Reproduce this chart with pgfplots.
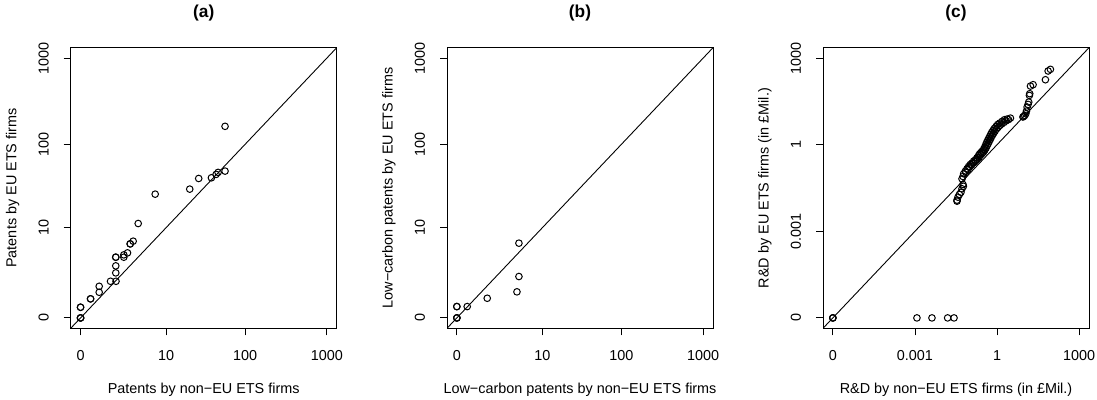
\documentclass[border=0pt]{standalone}
\usepackage{fontspec}
\setmainfont{Liberation Sans}
\usepackage{pgfplots}
\pgfplotsset{compat=1.18}

\pgfplotsset{
  qq/.style={
    scale only axis, width=266bp, height=280.6bp,
    xmin=-0.12, xmax=3.12, ymin=-0.12, ymax=3.12,
    axis line style={line width=0.9bp},
    tick align=outside, major tick length=7bp,
    xtick pos=bottom, ytick pos=left,
    tick style={black, line width=0.9bp},
    every tick label/.append style={font=\fontsize{14.4bp}{17bp}\selectfont},
    xticklabel style={anchor=center, yshift=-20bp},
    yticklabel style={xshift=-20bp, rotate=90, anchor=center},
    label style={font=\fontsize{14.4bp}{17bp}\selectfont},
    xlabel style={at={(axis description cs:0.5,-0.2199)}, anchor=center},
    ylabel style={at={(axis description cs:-0.218,0.5)}, anchor=center, rotate=0},
    every axis title shift=0pt,
    title style={at={(axis description cs:0.5,1.1226)}, anchor=center, font=\fontsize{17.3bp}{20bp}\selectfont\bfseries},
  },
  pts/.style={only marks, mark=o, mark size=3.3bp, black, mark options={line width=1bp}},
  diag/.style={black, line width=0.9bp, no marks},
}

\begin{document}
\begin{tikzpicture}
\path[use as bounding box] (0,0) rectangle (1097bp,400bp);

% ---------------- (a)
\begin{axis}[qq, at={(70.7bp,71.7bp)}, anchor=south west,
  title={(a)},
  xtick={0,1.041,2.004,3.0}, xticklabels={0,10,100,1000},
  ytick={0,1.041,2.004,3.0}, yticklabels={0,10,100,1000},
  xlabel={Patents by non−EU ETS firms},
  ylabel={Patents by EU ETS firms}]
\addplot[diag] coordinates {(-0.12,-0.12) (3.12,3.12)};
\addplot[pts] table {
x y
0 0
0 0
0 0
0 0.123
0 0.123
0.122 0.220
0.122 0.220
0.227 0.296
0.227 0.365
0.365 0.423
0.432 0.423
0.429 0.520
0.429 0.601
0.429 0.701
0.429 0.701
0.527 0.701
0.527 0.728
0.572 0.751
0.605 0.855
0.605 0.855
0.641 0.886
0.702 1.090
0.909 1.429
1.330 1.487
1.439 1.610
1.594 1.618
1.651 1.657
1.675 1.680
1.760 1.695
1.760 2.212
};
\end{axis}

% ---------------- (b)
\begin{axis}[qq, at={(447bp,71.7bp)}, anchor=south west,
  title={(b)},
  xtick={0,1.041,2.004,3.0}, xticklabels={0,10,100,1000},
  ytick={0,1.041,2.004,3.0}, yticklabels={0,10,100,1000},
  xlabel={Low−carbon patents by non−EU ETS firms},
  ylabel={Low−carbon patents by EU ETS firms}]
\addplot[diag] coordinates {(-0.12,-0.12) (3.12,3.12)};
\addplot[pts] table {
x y
0 0
0 0
0 0
0 0.131
0 0.131
0.126 0.131
0.370 0.227
0.732 0.301
0.756 0.478
0.756 0.863
};
\end{axis}

% ---------------- (c)
\begin{axis}[qq, at={(823bp,71.7bp)}, anchor=south west,
  title={(c)},
  xtick={0,1,2,3}, xticklabels={0,0.001,1,1000},
  ytick={0,1,2,3}, yticklabels={0,0.001,1,1000},
  xlabel={R\&D by non−EU ETS firms (in £Mil.)},
  ylabel={R\&D by EU ETS firms (in £Mil.)}]
\addplot[diag] coordinates {(-0.12,-0.12) (3.12,3.12)};
\addplot[pts] table {
x y
0 0
0 0
0 0
1.024 0
1.207 0
1.398 0
1.476 0
1.512 1.348
1.512 1.360
1.524 1.394
1.541 1.425
1.560 1.450
1.573 1.491
1.585 1.541
1.590 1.520
1.573 1.606
1.585 1.633
1.593 1.664
1.614 1.695
1.634 1.722
1.654 1.749
1.675 1.772
1.695 1.787
1.715 1.810
1.736 1.826
1.756 1.849
1.776 1.876
1.789 1.895
1.805 1.911
1.821 1.926
1.837 1.949
1.850 1.972
1.862 1.999
1.874 2.026
1.886 2.049
1.898 2.072
1.911 2.096
1.923 2.119
1.935 2.142
1.951 2.165
1.967 2.188
1.988 2.211
2.008 2.234
2.033 2.250
2.061 2.269
2.089 2.288
2.122 2.296
2.163 2.307
1.620 1.680
1.645 1.712
1.668 1.745
1.690 1.765
1.712 1.790
1.735 1.806
1.758 1.830
1.780 1.852
1.800 1.880
1.818 1.898
1.835 1.915
1.852 1.940
1.866 1.962
1.880 1.990
1.893 2.015
1.905 2.040
1.918 2.062
1.930 2.088
1.944 2.110
1.958 2.132
1.975 2.155
1.992 2.180
2.012 2.200
2.035 2.222
2.058 2.240
2.085 2.258
2.110 2.275
2.140 2.290
2.315 2.320
2.325 2.327
2.337 2.338
2.350 2.357
2.358 2.388
2.366 2.435
2.378 2.465
2.386 2.492
2.394 2.569
2.398 2.589
2.407 2.677
2.439 2.693
2.589 2.750
2.622 2.851
2.650 2.870
};
\end{axis}
\end{tikzpicture}
\end{document}
